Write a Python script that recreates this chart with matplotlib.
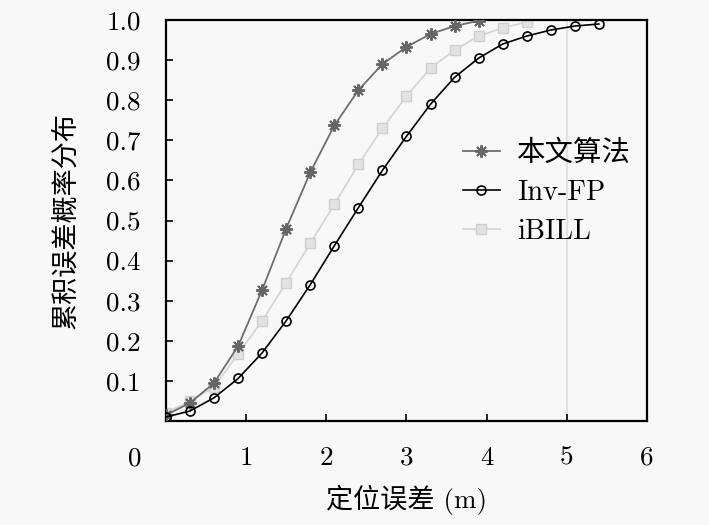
import numpy as np
import matplotlib
matplotlib.use("Agg")
import matplotlib.pyplot as plt

plt.rcParams['font.family'] = ['cmr10', 'Noto Sans CJK SC', 'DejaVu Sans']
plt.rcParams['mathtext.fontset'] = 'cm'
plt.rcParams['axes.formatter.use_mathtext'] = True

# 定位误差 (m)
x_ours = [0, 0.3, 0.6, 0.9, 1.2, 1.5, 1.8, 2.1, 2.4, 2.7, 3.0, 3.3, 3.6, 3.9]
y_ours = [0.015, 0.045, 0.095, 0.187, 0.327, 0.48, 0.62, 0.737, 0.825, 0.89, 0.933, 0.965, 0.985, 0.998]

x_inv = [0, 0.3, 0.6, 0.9, 1.2, 1.5, 1.8, 2.1, 2.4, 2.7, 3.0, 3.3, 3.6, 3.9, 4.2, 4.5, 4.8, 5.1, 5.4]
y_inv = [0.01, 0.025, 0.058, 0.106, 0.17, 0.25, 0.34, 0.437, 0.532, 0.625, 0.71, 0.79, 0.857,
         0.905, 0.94, 0.96, 0.975, 0.985, 0.99]

x_ibill = [0, 0.3, 0.6, 0.9, 1.2, 1.5, 1.8, 2.1, 2.4, 2.7, 3.0, 3.3, 3.6, 3.9, 4.2, 4.5]
y_ibill = [0.02, 0.05, 0.085, 0.167, 0.25, 0.345, 0.443, 0.54, 0.64, 0.73, 0.81, 0.88, 0.925,
           0.96, 0.98, 0.995]

xticks = [1, 2, 3, 4, 5, 6]
yticks = [0.1, 0.2, 0.3, 0.4, 0.5, 0.6, 0.7, 0.8, 0.9, 1.0]

fig = plt.figure(figsize=(7.09, 5.25), dpi=100, facecolor='#f8f8f8')
ax = fig.add_axes([0.2341, 0.1981, 0.6784, 0.7638])
ax.set_facecolor('#f8f8f8')

ax.axvline(5, color='#e2e2e2', lw=1.5, zorder=0)

ax.plot(x_ours, y_ours, color='#6e6e6e', lw=1.3, marker=(8, 2, 0), ms=9, mew=1.4,
        mec='#666666', label='本文算法', zorder=3)
ax.plot(x_inv, y_inv, color='black', lw=1.2, marker='o', ms=6.5,
        mfc='none', mec='black', mew=1.2, label='Inv-FP', zorder=4)
ax.plot(x_ibill, y_ibill, color='#d6d6d6', lw=1.3, marker='s', ms=7,
        mfc='#e2e2e2', mec='#cfcfcf', label='iBILL', zorder=2)

ax.set_xlim(0, 6)
ax.set_ylim(0, 1.0)
ax.set_xticks(xticks)
ax.set_xticklabels([str(v) for v in xticks])
ax.set_yticks(yticks)
ax.set_yticklabels(['%.1f' % v for v in yticks])
ax.tick_params(direction='in', length=5, width=1.2, labelsize=19.5)
ax.tick_params(axis='x', pad=18)
ax.tick_params(axis='y', pad=18)
for s in ax.spines.values():
    s.set_linewidth(1.6)

ax.text(-0.39, -0.095, '0', fontsize=19.5, ha='center', va='center')

ax.set_xlabel('定位误差 (m)', fontsize=19.5, labelpad=11)
ax.set_ylabel('累积误差概率分布', fontsize=19.5, labelpad=20)

ax.legend(loc='upper left', bbox_to_anchor=(0.617, 0.70), frameon=False,
          fontsize=20.5, handlelength=1.3, handletextpad=0.6, labelspacing=0.45,
          borderpad=0, borderaxespad=0)

plt.savefig('out.png', dpi=100, facecolor=fig.get_facecolor())
